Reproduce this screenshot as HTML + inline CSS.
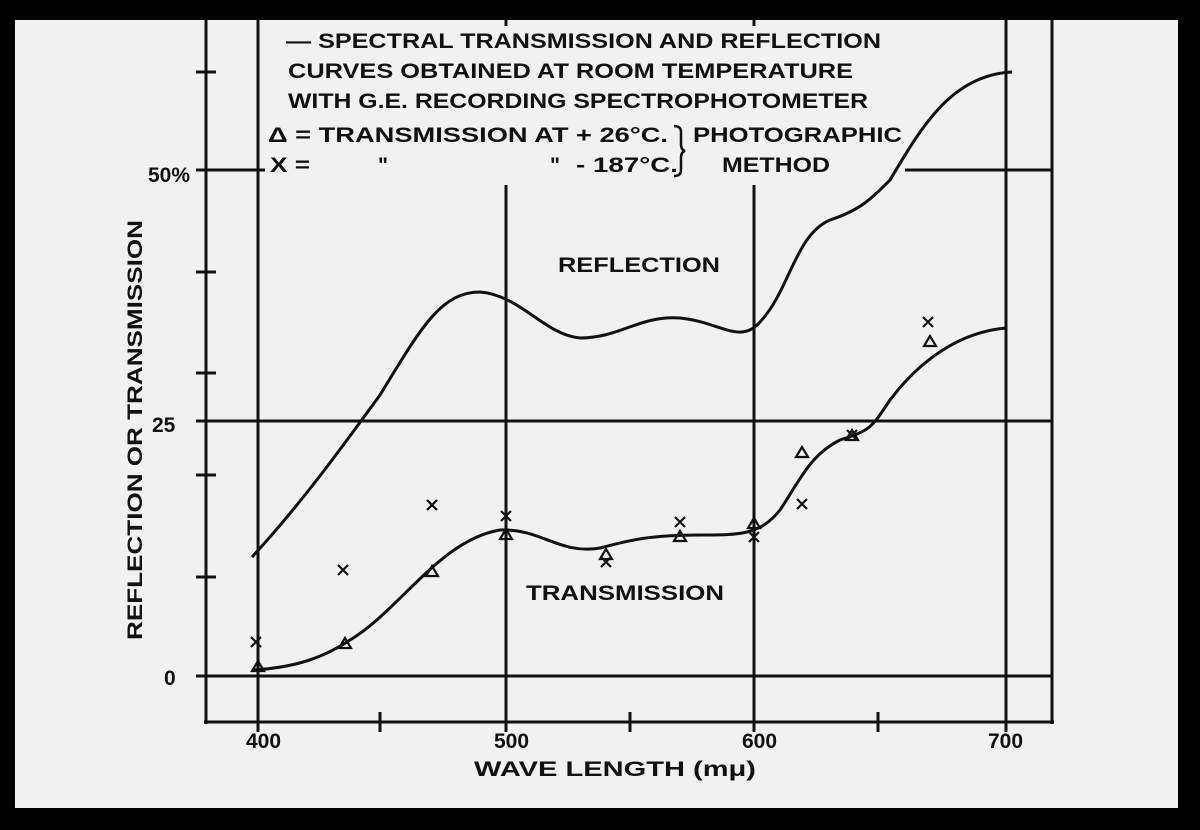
<!DOCTYPE html>
<html><head><meta charset="utf-8"><style>
html,body{margin:0;padding:0;background:#000;}
svg{display:block}
text{font-family:"Liberation Sans Narrow","Liberation Sans",sans-serif;font-weight:bold;fill:#111;}
</style></head><body>
<svg width="1200" height="830" viewBox="0 0 1200 830" xmlns="http://www.w3.org/2000/svg">
<rect x="0" y="0" width="1200" height="830" fill="#000"/>
<rect x="15" y="20" width="1163" height="788" fill="#f1f1f1"/>
<g stroke="#111" stroke-width="3" fill="none">
<line x1="206" y1="20" x2="206" y2="724"/>
<line x1="204" y1="722" x2="1054" y2="722"/>
<line x1="1052" y1="20" x2="1052" y2="724"/>
<line x1="258" y1="20" x2="258" y2="722"/>
<line x1="1006" y1="20" x2="1006" y2="722"/>
<line x1="506" y1="185" x2="506" y2="722"/>
<line x1="754" y1="185" x2="754" y2="722"/>
<line x1="506" y1="20" x2="506" y2="26"/>
<line x1="754" y1="20" x2="754" y2="26"/>
<line x1="206" y1="676" x2="1052" y2="676"/>
<line x1="206" y1="421" x2="1052" y2="421"/>
<line x1="206" y1="170" x2="265" y2="170"/>
<line x1="905" y1="170" x2="1052" y2="170"/>
<line x1="196" y1="72" x2="216" y2="72"/>
<line x1="196" y1="170" x2="206" y2="170"/>
<line x1="196" y1="272" x2="216" y2="272"/>
<line x1="196" y1="373" x2="216" y2="373"/>
<line x1="196" y1="421" x2="206" y2="421"/>
<line x1="196" y1="475" x2="216" y2="475"/>
<line x1="196" y1="577" x2="216" y2="577"/>
<line x1="196" y1="676" x2="206" y2="676"/>
<line x1="380" y1="712" x2="380" y2="732"/>
<line x1="630" y1="712" x2="630" y2="732"/>
<line x1="878" y1="712" x2="878" y2="732"/>
<line x1="258" y1="722" x2="258" y2="732"/>
<line x1="506" y1="722" x2="506" y2="732"/>
<line x1="754" y1="722" x2="754" y2="732"/>
<line x1="1006" y1="722" x2="1006" y2="732"/>
<path d="M252,557 C300,505 340,450 380,395 C420,330 440,292 480,292 C520,295 545,335 580,338 C620,338 640,315 680,318 C720,322 740,345 760,322 C790,290 795,235 830,220 C860,210 870,200 890,180 C920,130 950,75 1012,72"/>
<path d="M252,670 C290,668 320,660 350,640 C400,610 440,540 500,530 C540,528 560,555 600,548 C630,540 650,535 700,535 C740,535 760,535 780,510 C800,480 810,455 840,440 C870,430 870,430 890,400 C920,360 960,332 1006,328"/>
</g>
<g stroke="#111" stroke-width="2.2" fill="none">
<path d="M258,661 l-6,10 h12z"/><path d="M345,638 l-6,10 h12z"/><path d="M432,566 l-6,10 h12z"/>
<path d="M506,529 l-6,10 h12z"/><path d="M606,549 l-6,10 h12z"/><path d="M680,531 l-6,10 h12z"/>
<path d="M754,518 l-6,10 h12z"/><path d="M802,447 l-6,10 h12z"/><path d="M852,430 l-6,10 h12z"/>
<path d="M930,336 l-6,10 h12z"/>
<path d="M251,637 l10,10 M261,637 l-10,10"/><path d="M338,565 l10,10 M348,565 l-10,10"/>
<path d="M427,500 l10,10 M437,500 l-10,10"/><path d="M501,511 l10,10 M511,511 l-10,10"/>
<path d="M601,557 l10,10 M611,557 l-10,10"/><path d="M675,517 l10,10 M685,517 l-10,10"/>
<path d="M749,532 l10,10 M759,532 l-10,10"/><path d="M797,499 l10,10 M807,499 l-10,10"/>
<path d="M847,430 l10,10 M857,430 l-10,10"/><path d="M923,317 l10,10 M933,317 l-10,10"/>
<path d="M674,126 q7,0 7,6 v12 q0,6 4,7 q-4,1 -4,7 v12 q0,6 -7,6" stroke-width="2.5"/>
</g>
<g font-size="21">
<text x="286" y="48" textLength="595" lengthAdjust="spacingAndGlyphs">— SPECTRAL TRANSMISSION AND REFLECTION</text>
<text x="288" y="78" textLength="565" lengthAdjust="spacingAndGlyphs">CURVES OBTAINED AT ROOM TEMPERATURE</text>
<text x="288" y="108" textLength="580" lengthAdjust="spacingAndGlyphs">WITH G.E. RECORDING  SPECTROPHOTOMETER</text>
<text x="268" y="142" textLength="400" lengthAdjust="spacingAndGlyphs">Δ = TRANSMISSION AT + 26°C.</text>
<text x="270" y="172" textLength="40" lengthAdjust="spacingAndGlyphs">X =</text>
<text x="378" y="172">"</text>
<text x="550" y="172">"</text>
<text x="576" y="172" textLength="102" lengthAdjust="spacingAndGlyphs">- 187°C.</text>
<text x="693" y="142" textLength="209" lengthAdjust="spacingAndGlyphs">PHOTOGRAPHIC</text>
<text x="722" y="172" textLength="108" lengthAdjust="spacingAndGlyphs">METHOD</text>
<text x="558" y="272" textLength="162" lengthAdjust="spacingAndGlyphs">REFLECTION</text>
<text x="526" y="600" textLength="198" lengthAdjust="spacingAndGlyphs">TRANSMISSION</text>
<text x="148" y="182">50%</text>
<text x="152" y="432">25</text>
<text x="164" y="685">0</text>
<text x="246" y="748">400</text>
<text x="494" y="748">500</text>
<text x="742" y="748">600</text>
<text x="988" y="748">700</text>
<text x="474" y="776" textLength="282" lengthAdjust="spacingAndGlyphs">WAVE LENGTH (mμ)</text>
<text transform="translate(142,640) rotate(-90)" textLength="420" lengthAdjust="spacingAndGlyphs">REFLECTION OR TRANSMISSION</text>
</g>
</svg>
</body></html>
